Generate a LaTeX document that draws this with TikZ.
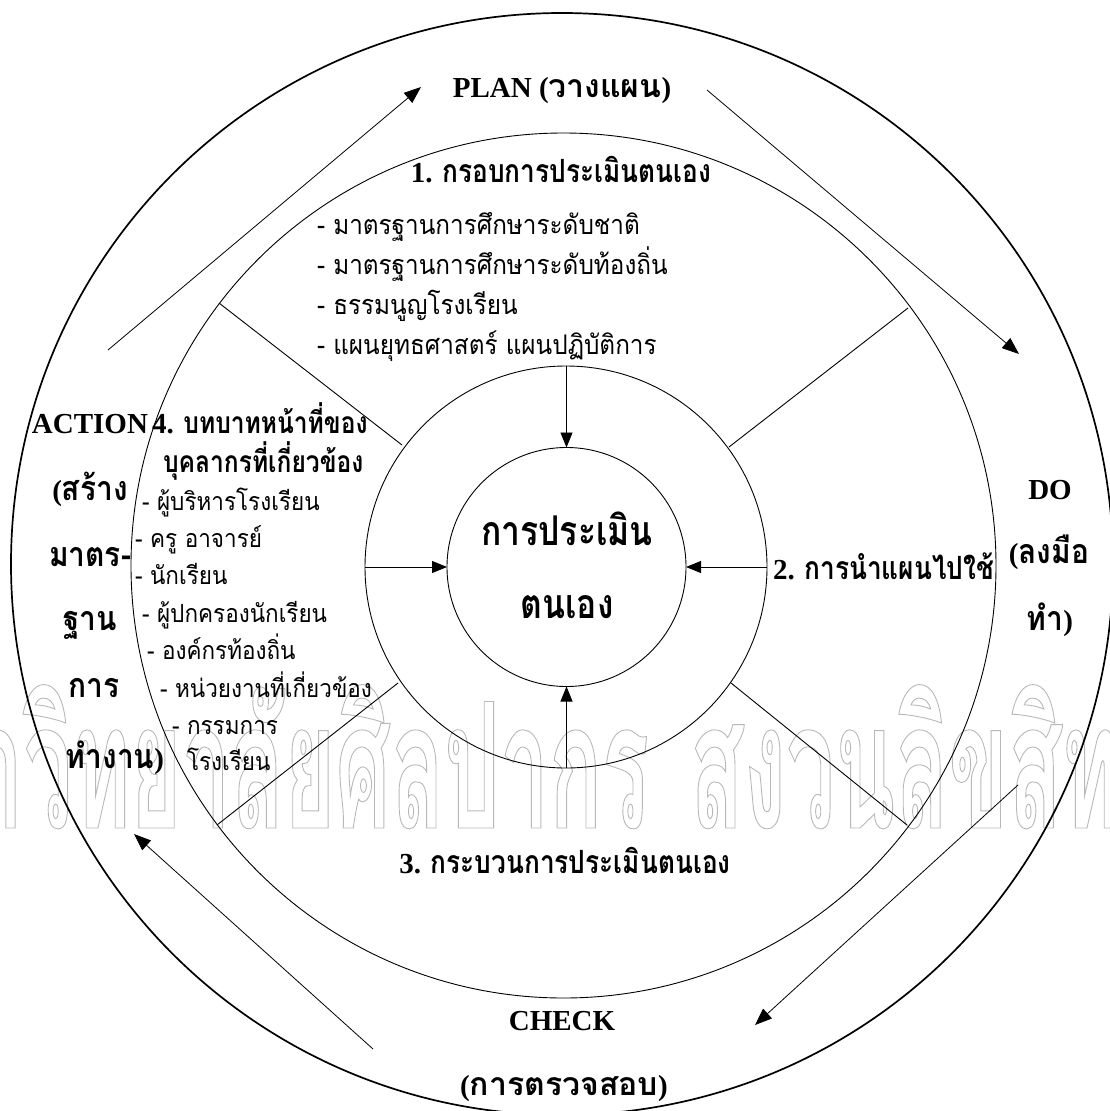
\documentclass[tikz,border=0pt]{standalone}
\usepackage{fontspec}
\setmainfont{Liberation Serif}
\newfontfamily\thaifont[Script=Thai]{Loma}
\newfontfamily\thaibody[Script=Thai,FakeStretch=0.9]{Loma}
\newfontfamily\thainarrow[Script=Thai,FakeStretch=0.82]{Loma}
\newfontfamily\thaicol[Script=Thai,FakeStretch=0.88]{Loma}
\newfontfamily\wmfont[Script=Thai,FakeStretch=0.5]{Loma}
\usetikzlibrary{arrows.meta}

% Latin bold labels and Thai runs at their own sizes
\newcommand\lat{\fontsize{29}{29}\selectfont\bfseries}
\newcommand\thw[1]{{\fontsize{32}{32}\thaifont\bfseries #1}}
\newcommand\thb[1]{{\fontsize{32}{32}\thainarrow\bfseries #1}}
\newcommand\thr[1]{{\fontsize{30}{30}\thainarrow\bfseries #1}}
\newcommand\thc[1]{{\fontsize{34}{34}\thaicol\bfseries #1}}
\newcommand\thn[1]{{\fontsize{27}{27}\thaibody #1}}
\newcommand\ths[1]{{\fontsize{25}{25}\thaibody #1}}
\newcommand\thcore[1]{{\fontsize{41}{41}\thainarrow\bfseries #1}}
% hollow grey lettering
\newcommand\hollow[1]{\special{pdf:literal direct 1 Tr 0.9 w 0.72 G}#1\special{pdf:literal direct 0 Tr 0 G}}

\begin{document}
\begin{tikzpicture}[x=1pt,y=-1pt,
  every node/.style={inner sep=0pt,outer sep=0pt},
  ring/.style={line width=0.9pt},
  rim/.style={line width=1.7pt},
  spoke/.style={line width=0.9pt},
  feed/.style={line width=0.9pt,-{Triangle[length=15pt,width=12pt]}},
  cyc/.style={line width=0.8pt,-{Triangle[length=17pt,width=13pt]}},
  wm/.style={font=\fontsize{175}{175}\wmfont\bfseries}
]
\useasboundingbox (0,0) rectangle (1110,1111);
\clip (0,0) rectangle (1110,1111);

% background lettering
\node[wm,anchor=base east] (wmL) at (649,828) {\hollow{มหาวิทยาลัยศิลปากร}};
\node[wm,anchor=base west] (wmR) at (690,828) {\hollow{สงวนลิขสิทธิ์}};

% concentric rings
\draw[rim]  (562,564) circle[radius=551pt];
\draw[ring] (563.5,565.5) circle[radius=432.5pt];
\draw[ring] (566,567) circle[radius=201pt];
\node[draw,circle,ring,minimum size=239pt] (core) at (566.5,567) {};

% spokes between the two inner rings
\draw[spoke] (219,303) -- (402,445);
\draw[spoke] (908,308) -- (729,447);
\draw[spoke] (731,683) -- (907,825);
\draw[spoke] (398,683) -- (217,825);

% feeds into the core
\coordinate (fT) at (566.5,366);
\coordinate (fL) at (365,567);
\coordinate (fR) at (767,567);
\coordinate (fB) at (566.5,768);
\draw[feed] (fT) -- (core.north);
\draw[feed] (fL) -- (core.west);
\draw[feed] (fR) -- (core.east);
\draw[feed] (fB) -- (core.south);

% PDCA cycle arrows
\coordinate (aS) at (108,350);  \coordinate (aE) at (421,87);
\coordinate (pS) at (707,90);   \coordinate (pE) at (1019,354);
\coordinate (dS) at (1018,785); \coordinate (dE) at (755,1025);
\coordinate (cS) at (373,1049); \coordinate (cE) at (134,834);
\draw[cyc] (aS) -- (aE);
\draw[cyc] (pS) -- (pE);
\draw[cyc] (dS) -- (dE);
\draw[cyc] (cS) -- (cE);

% core label
\node[anchor=base] (core1) at (567,545) {\thcore{การประเมิน}};
\node[anchor=base] (core2) at (567,618) {\thcore{ตนเอง}};

% PLAN
\node[anchor=base] (plan) at (562,97) {\lat PLAN (\thw{วางแผน})};

% 1. framework
\node[anchor=base] (h1) at (561,182) {\lat 1. \thb{กรอบการประเมินตนเอง}};
\node[anchor=base west] (l11) at (317,234) {\thn{- มาตรฐานการศึกษาระดับชาติ}};
\node[anchor=base west] (l12) at (317,274) {\thn{- มาตรฐานการศึกษาระดับท้องถิ่น}};
\node[anchor=base west] (l13) at (317,314) {\thn{- ธรรมนูญโรงเรียน}};
\node[anchor=base west] (l14) at (317,354) {\thn{- แผนยุทธศาสตร์ แผนปฏิบัติการ}};

% ACTION
\node[anchor=base] (act0) at (90,433) {\lat ACTION};
\node[anchor=base] (act1) at (90,500) {\lat(\thc{สร้าง}};
\node[anchor=base] (act2) at (90,566) {\thc{มาตร-}};
\node[anchor=base] (act3) at (90,630) {\thc{ฐาน}};
\node[anchor=base] (act4) at (94,697) {\thc{การ}};
\node[anchor=base] (act5) at (115,768) {\lat\thc{ทำงาน})};

% 4. roles
\node[anchor=base west] (h4a) at (152,433) {\lat 4. \thr{บทบาทหน้าที่ของ}};
\node[anchor=base west] (h4b) at (163,472) {\thr{บุคลากรที่เกี่ยวข้อง}};
\node[anchor=base west] (l41) at (142,510) {\ths{- ผู้บริหารโรงเรียน}};
\node[anchor=base west] (l42) at (135,547) {\ths{- ครู อาจารย์}};
\node[anchor=base west] (l43) at (135,584) {\ths{- นักเรียน}};
\node[anchor=base west] (l44) at (142,622) {\ths{- ผู้ปกครองนักเรียน}};
\node[anchor=base west] (l45) at (147,659) {\ths{- องค์กรท้องถิ่น}};
\node[anchor=base west] (l46) at (160,697) {\ths{- หน่วยงานที่เกี่ยวข้อง}};
\node[anchor=base west] (l47) at (172,734) {\ths{- กรรมการ}};
\node[anchor=base west] (l48) at (187,770) {\ths{โรงเรียน}};

% 2. implementation and DO
\node[anchor=base west] (h2) at (773,579) {\lat 2. \thb{การนำแผนไปใช้}};
\node[anchor=base] (do0) at (1050,499) {\lat DO};
\node[anchor=base] (do1) at (1049,563) {\lat(\thc{ลงมือ}};
\node[anchor=base] (do2) at (1050,630) {\lat\thc{ทำ})};

% 3. process and CHECK
\node[anchor=base] (h3) at (565,873) {\lat 3. \thb{กระบวนการประเมินตนเอง}};
\node[anchor=base] (chk0) at (562,1030) {\lat CHECK};
\node[anchor=base] (chk1) at (564,1095) {\lat(\thw{การตรวจสอบ})};
\end{tikzpicture}
\end{document}
